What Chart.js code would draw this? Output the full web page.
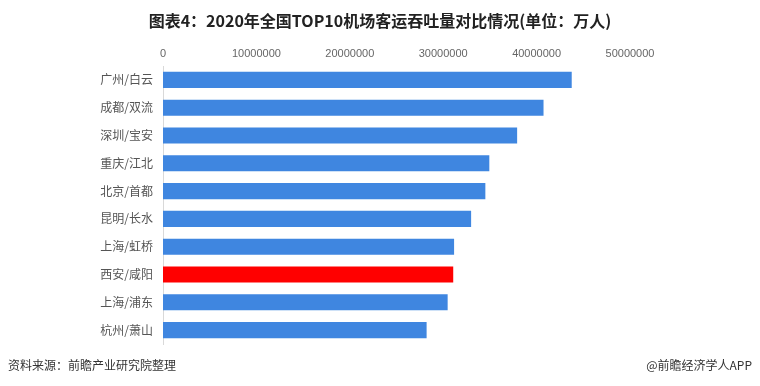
<!DOCTYPE html>
<html><head><meta charset="utf-8">
<script src="https://cdn.jsdelivr.net/npm/chart.js@4"></script>
<style>
html,body{margin:0;padding:0;background:#fff;width:760px;height:386px;overflow:hidden;font-family:"Noto Sans CJK SC","Noto Sans",sans-serif;}
#title{position:absolute;left:0;top:8px;width:760px;text-align:center;font-size:16px;font-weight:bold;color:#222;line-height:24px;}
#src{position:absolute;left:8px;top:356px;font-size:12px;color:#333;line-height:18px;}
#brand{position:absolute;right:8px;top:356px;font-size:12px;color:#333;line-height:18px;}
#c{position:absolute;left:0;top:0;}
</style></head>
<body>
<canvas id="c" width="760" height="386"></canvas>
<div id="title">图表4：2020年全国TOP10机场客运吞吐量对比情况(单位：万人)</div>
<div id="src">资料来源：前瞻产业研究院整理</div>
<div id="brand">@前瞻经济学人APP</div>
<script>
const categories = ["广州/白云","成都/双流","深圳/宝安","重庆/江北","北京/首都","昆明/长水","上海/虹桥","西安/咸阳","上海/浦东","杭州/萧山"];
const values = [43760427,40741509,37916059,34937789,34513827,32989127,31165641,31073884,30476531,28224342];
const highlight = "西安/咸阳";
const xTicks = [0,10000000,20000000,30000000,40000000,50000000];

const colors = categories.map(c => c === highlight ? "#FF0000" : "#3F86E0");

new Chart(document.getElementById('c'), {
  type: 'bar',
  data: { labels: categories, datasets: [{ data: values, backgroundColor: colors, borderWidth: 0, barPercentage: 0.58, categoryPercentage: 1.0 }] },
  options: {
    indexAxis: 'y',
    responsive: false,
    animation: false,
    layout: { padding: { top: 40, right: 130, bottom: 42, left: 0 } },
    plugins: { legend: { display: false }, tooltip: { enabled: false } },
    scales: {
      x: {
        position: 'top', min: 0, max: 50000000,
        afterBuildTicks: s => { s.ticks = xTicks.map(v => ({ value: v })); },
        afterFit: s => { s.height = 26; },
        grid: { display: false, drawTicks: false },
        border: { display: false },
        ticks: { color: '#666', font: { family: 'Liberation Sans', size: 11 }, padding: 5, maxRotation: 0, autoSkip: false, callback: v => String(v) }
      },
      y: {
        afterFit: s => { s.width = 163; },
        grid: { display: false, drawTicks: false },
        border: { display: true, color: '#d9d9d9', width: 1 },
        ticks: { color: '#555', font: { family: 'Noto Sans CJK SC', size: 12 }, padding: 10 }
      }
    }
  }
});
</script>
</body></html>
